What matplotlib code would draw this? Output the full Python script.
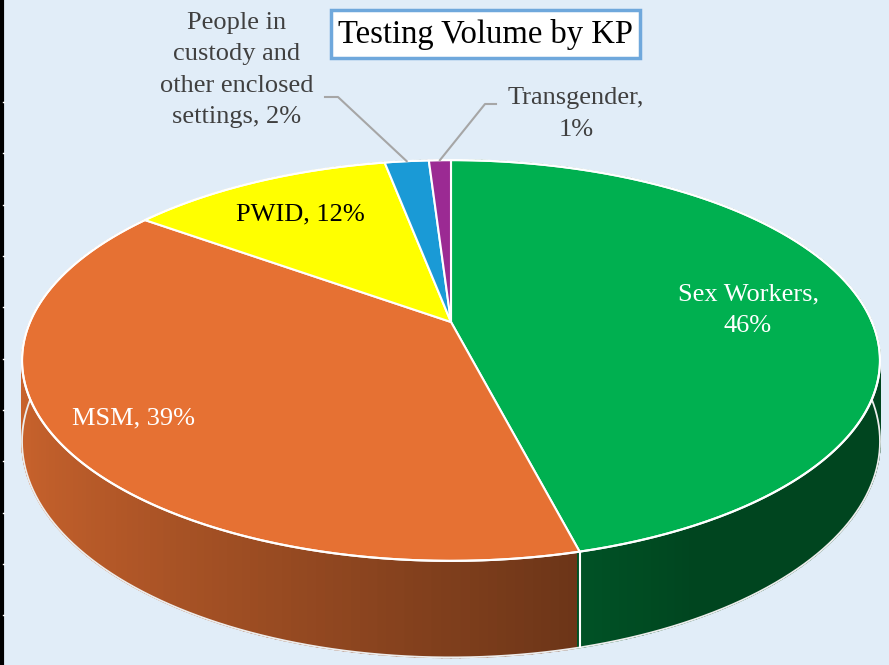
import numpy as np
import matplotlib.pyplot as plt
from matplotlib.patches import Polygon, Rectangle
from matplotlib.colors import to_rgb

# data
categories = ['Sex Workers', 'MSM', 'PWID',
              'People in custody and other enclosed settings', 'Transgender']
shares = [46, 39, 12, 2, 1]
colors = ['#00B050', '#E67133', '#FFFF00', '#1A9AD6', '#9B2A93']
labels = ['Sex Workers,\n46%', 'MSM, 39%', 'PWID, 12%',
          'People in\ncustody and\nother enclosed\nsettings, 2%', 'Transgender,\n1%']
title = 'Testing Volume by KP'

BG = '#E1EDF8'
W, Hpx = 889, 665
# pie geometry in pixels (center, radii, perspective, thickness)
CX, CY, A, B, K, DEPTH = 451, 322, 421, 193, 0.192, 78


def project(theta, drop=0.0):
    u, v = np.cos(theta), np.sin(theta)
    s = 1.0 / (1 + K * v)
    return CX + A * u * s, CY - B * v * s + drop * s


def shade(u):
    return max(0.39, 0.55 - 0.33 * u)


fig = plt.figure(figsize=(W / 100, Hpx / 100), dpi=100, facecolor=BG)
ax = fig.add_axes([0, 0, 1, 1])
ax.set_xlim(0, W)
ax.set_ylim(Hpx, 0)
ax.axis('off')
ax.set_facecolor(BG)

# slice boundaries: start at 12 o'clock, go clockwise
frac = np.cumsum([0] + shares) / sum(shares)
bounds = np.pi / 2 - 2 * np.pi * frac

# side wall, drawn back to front
n = 360
ts = np.linspace(np.pi / 2, np.pi / 2 - 2 * np.pi, n + 1)
strips = []
for i in range(n):
    t0, t1 = ts[i], ts[i + 1]
    tm = 0.5 * (t0 + t1)
    idx = np.searchsorted(-bounds, -tm) - 1
    idx = min(max(idx, 0), len(shares) - 1)
    strips.append((np.sin(tm), t0, t1, idx, np.cos(tm)))
strips.sort(key=lambda s: -s[0])
for v, t0, t1, idx, u in strips:
    c = np.array(to_rgb(colors[idx])) * shade(u)
    pts = [project(t0), project(t1), project(t1, DEPTH), project(t0, DEPTH)]
    ax.add_patch(Polygon(pts, closed=True, facecolor=c, edgecolor=c,
                         lw=1.2, zorder=1))

# outline of the bottom edge
bx, by = zip(*[project(t, DEPTH) for t in np.linspace(0.05, -np.pi - 0.05, 400)])
ax.plot(bx, by, color='#EDEDED', lw=1.3, zorder=1.5)

# slice boundaries on the visible side wall
for b in bounds[1:-1]:
    if np.sin(b) < 0:
        x0, y0 = project(b)
        x1, y1 = project(b, DEPTH)
        ax.plot([x0, x1], [y0, y1], color='white', lw=1.5, zorder=1.6)

# top face
for i, c in enumerate(colors):
    arc = np.linspace(bounds[i], bounds[i + 1], 200)
    pts = [(CX, CY)] + [project(t) for t in arc]
    ax.add_patch(Polygon(pts, closed=True, facecolor=c, edgecolor='white',
                         lw=1.5, joinstyle='round', zorder=3))
ex, ey = zip(*[project(t) for t in np.linspace(0, 2 * np.pi, 600)])
ax.plot(ex, ey, color='white', lw=1.5, zorder=3.5)

# labels
serif = 'Liberation Serif'
label_pos = [(748, 310), (134, 418), (300, 214), (237, 70), (576, 114)]
label_col = ['white', 'white', '#000000', '#404040', '#404040']
for lab, (x, y), c in zip(labels, label_pos, label_col):
    ax.text(x, y, lab, ha='center', va='center', color=c, fontsize=19,
            family=serif, linespacing=1.55, zorder=5)

# leader lines for the two small slices
for i, elbow in [(3, [(325, 97), (338, 97)]), (4, [(496, 104), (485, 104)])]:
    mid = 0.5 * (bounds[i] + bounds[i + 1])
    ex_, ey_ = project(mid)
    xs = [p[0] for p in elbow] + [ex_]
    ys = [p[1] for p in elbow] + [ey_]
    ax.plot(xs, ys, color='#A6A6A6', lw=1.5, zorder=4)

# title box
ax.add_patch(Rectangle((331, 10), 309, 48, facecolor='white',
                       edgecolor='#6FA8DC', lw=2.5, zorder=5))
ax.text(485, 35, title, ha='center', va='center', fontsize=23.5,
        family=serif, color='black', zorder=6)

# black edge on the left with small notches
ax.plot([2, 2], [0, Hpx], color='black', lw=3, zorder=6)
for y in [102, 153, 205, 256, 307, 359, 410, 461, 513, 564, 615]:
    ax.plot([2.5, 4], [y, y], color='white', lw=1, zorder=7)

fig.savefig('out.png', dpi=100, facecolor=BG)
